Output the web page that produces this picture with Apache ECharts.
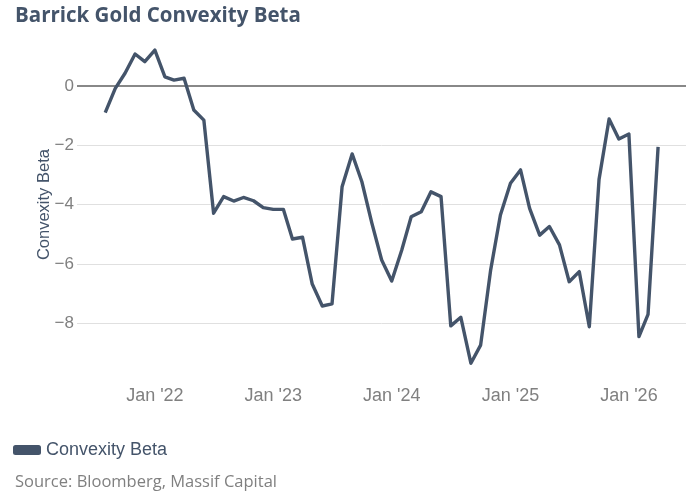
<!DOCTYPE html>
<html>
<head>
<meta charset="utf-8">
<script src="https://cdn.jsdelivr.net/npm/echarts@6/dist/echarts.min.js"></script>
<style>
html,body{margin:0;padding:0;background:#fff;}
#chart{width:700px;height:500px;}
</style>
</head>
<body>
<div id="chart"></div>
<script>
// ---- data ----
const titleText = "Barrick Gold Convexity Beta";
const sourceText = "Source: Bloomberg, Massif Capital";
const seriesName = "Convexity Beta";

const dates = [
  "2021-08-01","2021-09-01","2021-10-01","2021-11-01","2021-12-01",
  "2022-01-01","2022-02-01","2022-03-01","2022-04-01","2022-05-01",
  "2022-06-01","2022-07-01","2022-08-01","2022-09-01","2022-10-01",
  "2022-11-01","2022-12-01","2023-01-01","2023-02-01","2023-03-01",
  "2023-04-01","2023-05-01","2023-06-01","2023-07-01","2023-08-01",
  "2023-09-01","2023-10-01","2023-11-01","2023-12-01","2024-01-01",
  "2024-02-01","2024-03-01","2024-04-01","2024-05-01","2024-06-01",
  "2024-07-01","2024-08-01","2024-09-01","2024-10-01","2024-11-01",
  "2024-12-01","2025-01-01","2025-02-01","2025-03-01","2025-04-01",
  "2025-05-01","2025-06-01","2025-07-01","2025-08-01","2025-09-01",
  "2025-10-01","2025-11-01","2025-12-01","2026-01-01","2026-02-01",
  "2026-03-01","2026-04-01"
];

const convexityBeta = [
  -0.90, -0.08, 0.43, 1.08, 0.82,
  1.21, 0.31, 0.20, 0.26, -0.81,
  -1.15, -4.29, -3.73, -3.88, -3.76,
  -3.87, -4.10, -4.16, -4.16, -5.16,
  -5.10, -6.68, -7.42, -7.35, -3.40,
  -2.29, -3.23, -4.63, -5.87, -6.58,
  -5.53, -4.41, -4.24, -3.57, -3.73,
  -8.09, -7.80, -9.35, -8.74, -6.20,
  -4.35, -3.28, -2.83, -4.13, -5.03,
  -4.74, -5.36, -6.60, -6.26, -8.12,
  -3.15, -1.11, -1.79, -1.62, -8.45,
  -7.70, -2.05
];

const xTickDates = ["2022-01-01","2023-01-01","2024-01-01","2025-01-01","2026-01-01"];
const xTickLabels = ["Jan '22","Jan '23","Jan '24","Jan '25","Jan '26"];

// ---- chart ----
const ts = d => echarts.time.parse(d).getTime();
const chart = echarts.init(document.getElementById('chart'));
const tickTs = xTickDates.map(ts);
const seriesData = dates.map((d, i) => [ts(d), convexityBeta[i]]);

const lineColor = '#44546a';
const labelColor = '#808080';

chart.setOption({
  animation: false,
  backgroundColor: '#ffffff',
  title: [
    {
      text: titleText, left: 15, top: 6, padding: 0,
      textStyle: { fontFamily: 'Open Sans', fontWeight: 'bold', fontSize: 20.5, color: lineColor }
    },
    {
      text: sourceText, left: 15, top: 474, padding: 0,
      textStyle: { fontFamily: 'Open Sans', fontWeight: 'normal', fontSize: 16.5, color: labelColor }
    }
  ],
  legend: {
    left: 13, top: 441, padding: 0,
    icon: 'roundRect', itemWidth: 28, itemHeight: 10,
    textStyle: { fontFamily: 'Liberation Sans, Arial', fontSize: 18, color: lineColor },
    data: [seriesName]
  },
  grid: { left: 77, right: 14, top: 26.7, bottom: 117.5, outerBoundsMode: 'none' },
  xAxis: {
    type: 'value',
    min: ts('2021-05-06'), max: ts('2026-06-26'),
    axisLine: { show: false },
    axisTick: { show: false },
    splitLine: { show: false },
    axisLabel: {
      customValues: tickTs,
      margin: 5,
      fontFamily: 'Liberation Sans, Arial', fontSize: 18, color: labelColor,
      formatter: function (v) {
        const idx = tickTs.indexOf(v);
        return idx >= 0 ? xTickLabels[idx] : '';
      }
    }
  },
  yAxis: {
    type: 'value',
    min: -10, max: 2, interval: 2,
    name: 'Convexity Beta',
    nameLocation: 'middle',
    nameGap: 24,
    nameMoveOverlap: false,
    nameRotate: 90,
    nameTextStyle: { fontFamily: 'Liberation Sans, Arial', fontSize: 16.5, color: lineColor },
    axisLine: { show: false },
    axisTick: { show: false },
    axisLabel: {
      showMinLabel: false, showMaxLabel: false,
      margin: 3,
      fontFamily: 'Liberation Sans, Arial', fontSize: 17, color: labelColor,
      formatter: v => String(v).replace('-', '\u2212')
    },
    splitLine: { show: true, showMinLine: false, showMaxLine: false, lineStyle: { color: '#e0e0e0', width: 1 } }
  },
  series: [{
    name: seriesName,
    type: 'line',
    data: seriesData,
    showSymbol: false,
    symbol: 'none',
    z: 3,
    lineStyle: { color: lineColor, width: 3.4, join: 'round' },
    itemStyle: { color: lineColor },
    markLine: {
      silent: true, symbol: 'none', z: 1,
      label: { show: false },
      lineStyle: { color: '#888888', width: 2, type: 'solid' },
      data: [{ yAxis: 0 }]
    }
  }]
});
</script>
</body>
</html>
